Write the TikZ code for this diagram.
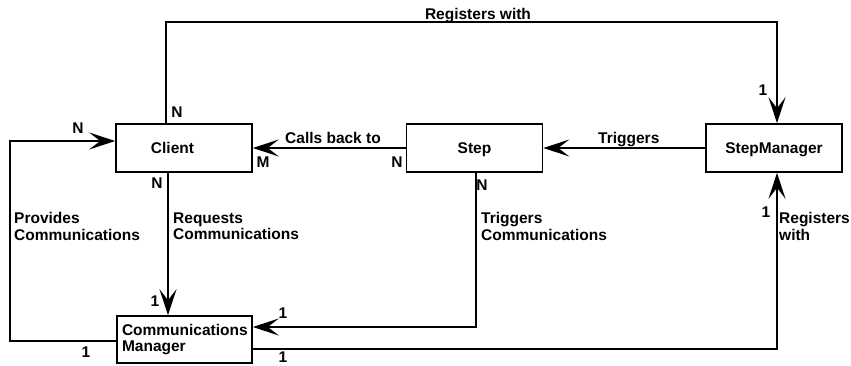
\documentclass[tikz,border=0pt]{standalone}
\usepackage{fontspec}
\setmainfont{Liberation Sans}
\usetikzlibrary{arrows.meta}
\begin{document}
\begin{tikzpicture}[x=1pt,y=-1pt,
  every node/.style={font=\bfseries\fontsize{15.5}{16.5}\selectfont},
  box/.style={draw, line width=1.6pt, minimum width=136pt, minimum height=48pt, inner sep=0pt},
  onebox/.style={box, text height=11pt, text depth=0pt},
  lab/.style={inner sep=0pt},
  mlab/.style={inner sep=0pt, align=left, anchor=north west},
  conn/.style={draw, line width=1.6pt, -{Stealth[length=26pt,width=17pt,inset=11pt]}}]
\useasboundingbox (0,0) rectangle (851,365);
% boxes
\node[onebox] (Client) at (184,148) {Client\hspace*{23pt}};
\node[onebox] (Step) at (474.5,148) {Step};
\node[onebox] (SM) at (774,148) {StepManager};
\node[box, align=left, text width=125pt, minimum width=135pt, minimum height=47pt, inner xsep=5pt] (CM) at (184.5,339.5) {Communications\\Manager};
% helper coordinates
\coordinate (t1) at (166,22);
\coordinate (t2) at (777,22);
\coordinate (l1) at (10,341);
\coordinate (l2) at (10,141);
\coordinate (c1) at (168,250);
\coordinate (s1) at (476,327);
\coordinate (r1) at (777,349);
% connectors
\draw[conn] (Client.north -| t1) -- (t1) -- (t2) -- (SM.north -| t2);
\draw[conn] (Step.west) -- (Client.east);
\draw[conn] (SM.west) -- (Step.east);
\draw[conn] (CM.west |- l1) -- (l1) -- (l2) -- (Client.west |- l2);
\draw[conn] (Client.south -| c1) -- (CM.north -| c1);
\draw[conn] (Step.south -| s1) -- (s1) -- (CM.east |- s1);
\draw[conn] (CM.east |- r1) -- (r1) -- (SM.south -| r1);
% connector labels
\node[lab, anchor=base] (lreg) at (478,19) {Registers with};
\node[lab, anchor=base west] (lcall) at (285,143) {Calls back to};
\node[lab, anchor=base west] (ltrig) at (598,143) {Triggers};
\node[mlab] (lprov) at (14,212.5) {Provides\\Communications};
\node[mlab] (lreq) at (173,212.5) {Requests\\Communications};
\node[mlab] (ltrc) at (481,212.5) {Triggers\\Communications};
\node[mlab] (lreg2) at (779,212.5) {Registers\\with};
% multiplicities
\node[lab] (m1) at (177,112) {N};
\node[lab] (m2) at (78,128) {N};
\node[lab] (m3) at (263,162) {M};
\node[lab] (m4) at (157,183) {N};
\node[lab] (m5) at (397,162) {N};
\node[lab] (m6) at (482,185) {N};
\node[lab] (m7) at (763,90) {1};
\node[lab] (m8) at (766,212) {1};
\node[lab] (m9) at (283,313) {1};
\node[lab] (m10) at (283,357) {1};
\node[lab] (m11) at (86,352) {1};
\node[lab] (m12) at (155,301) {1};
\end{tikzpicture}
\end{document}
